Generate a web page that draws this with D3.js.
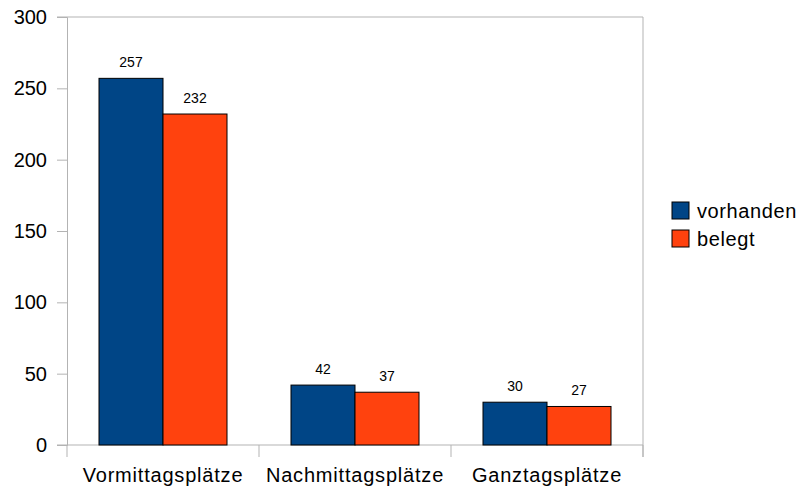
<!DOCTYPE html>
<html lang="de">
  <head>
    <meta charset="UTF-8" />
    <title>Plätze</title>
    <script src="https://d3js.org/d3.v7.min.js"></script>
    <style>
      body { margin: 0; background: #fff; }
      text { font-family: 'Liberation Sans', Arial, sans-serif; fill: #000; }
    </style>
  </head>
  <body>
    <div id="chart"></div>
    <script>
      const categories = ['Vormittagsplätze', 'Nachmittagsplätze', 'Ganztagsplätze']
      const seriesNames = ['vorhanden', 'belegt']
      const vorhanden = [257, 42, 30]
      const belegt = [232, 37, 27]
      const yTicks = [0, 50, 100, 150, 200, 250, 300]
      const colors = ['#004586', '#ff420e']

      const width = 803
      const height = 491
      const plot = { left: 67, top: 17, right: 643, bottom: 445 }

      const svg = d3
        .select('#chart')
        .append('svg')
        .attr('width', width)
        .attr('height', height)

      const x = d3.scaleBand().domain(categories).range([plot.left, plot.right])
      const xs = d3.scaleBand().domain(seriesNames).range([0, x.bandwidth()]).paddingOuter(0.5).paddingInner(0)
      const y = d3.scaleLinear().domain([0, 300]).range([plot.bottom, plot.top])

      const grey = '#b3b3b3'

      // frame
      svg.append('line').attr('x1', plot.left - 10).attr('x2', plot.right).attr('y1', plot.top).attr('y2', plot.top).attr('stroke', grey)
      svg.append('line').attr('x1', plot.right).attr('x2', plot.right).attr('y1', plot.top).attr('y2', plot.bottom + 12).attr('stroke', grey)

      // y axis
      const yAxis = svg
        .append('g')
        .attr('transform', `translate(${plot.left},0)`)
        .call(d3.axisLeft(y).tickValues(yTicks).tickSize(10).tickPadding(10))
      yAxis.select('.domain').attr('stroke', grey)
      yAxis.selectAll('.tick line').attr('stroke', grey)
      yAxis.selectAll('.tick text').attr('font-size', 20).attr('font-family', 'Liberation Sans, Arial, sans-serif')

      // x axis
      const xAxis = svg
        .append('g')
        .attr('transform', `translate(0,${plot.bottom})`)
        .call(d3.axisBottom(x).tickSize(0).tickPadding(23))
      xAxis.select('.domain').remove()
      xAxis.selectAll('.tick text').attr('font-size', 20).attr('font-family', 'Liberation Sans, Arial, sans-serif').attr('letter-spacing', 0.8)
      svg.append('line').attr('x1', plot.left - 10).attr('x2', plot.right).attr('y1', plot.bottom).attr('y2', plot.bottom).attr('stroke', grey)
      const seps = categories.map(c => x(c)).concat([plot.right])
      svg
        .selectAll('.sep')
        .data(seps)
        .enter()
        .append('line')
        .attr('x1', d => d)
        .attr('x2', d => d)
        .attr('y1', plot.bottom)
        .attr('y2', plot.bottom + 12)
        .attr('stroke', grey)

      const rows = categories.map((c, i) => ({ cat: c, values: [vorhanden[i], belegt[i]] }))

      const groups = svg
        .selectAll('.grp')
        .data(rows)
        .enter()
        .append('g')
        .attr('transform', d => `translate(${x(d.cat)},0)`)

      const cells = groups
        .selectAll('.cell')
        .data(d => d.values.map((v, j) => ({ name: seriesNames[j], value: v, color: colors[j] })))
        .enter()

      cells
        .append('rect')
        .attr('x', d => xs(d.name))
        .attr('y', d => y(d.value))
        .attr('width', xs.bandwidth())
        .attr('height', d => y(0) - y(d.value))
        .attr('fill', d => d.color)
        .attr('stroke', '#000')
        .attr('stroke-width', 1)

      cells
        .append('text')
        .attr('x', d => xs(d.name) + xs.bandwidth() / 2)
        .attr('y', d => y(d.value) - 11)
        .attr('text-anchor', 'middle')
        .attr('font-size', 14)
        .text(d => d.value)

      // legend
      const legend = svg
        .selectAll('.leg')
        .data(seriesNames)
        .enter()
        .append('g')
        .attr('transform', (d, i) => `translate(672,${202 + i * 28})`)
      legend
        .append('rect')
        .attr('width', 17)
        .attr('height', 17)
        .attr('fill', (d, i) => colors[i])
        .attr('stroke', '#000')
      legend
        .append('text')
        .attr('x', 25)
        .attr('y', 16)
        .attr('font-size', 20)
        .attr('letter-spacing', 0.6)
        .text(d => d)
    </script>
  </body>
</html>
